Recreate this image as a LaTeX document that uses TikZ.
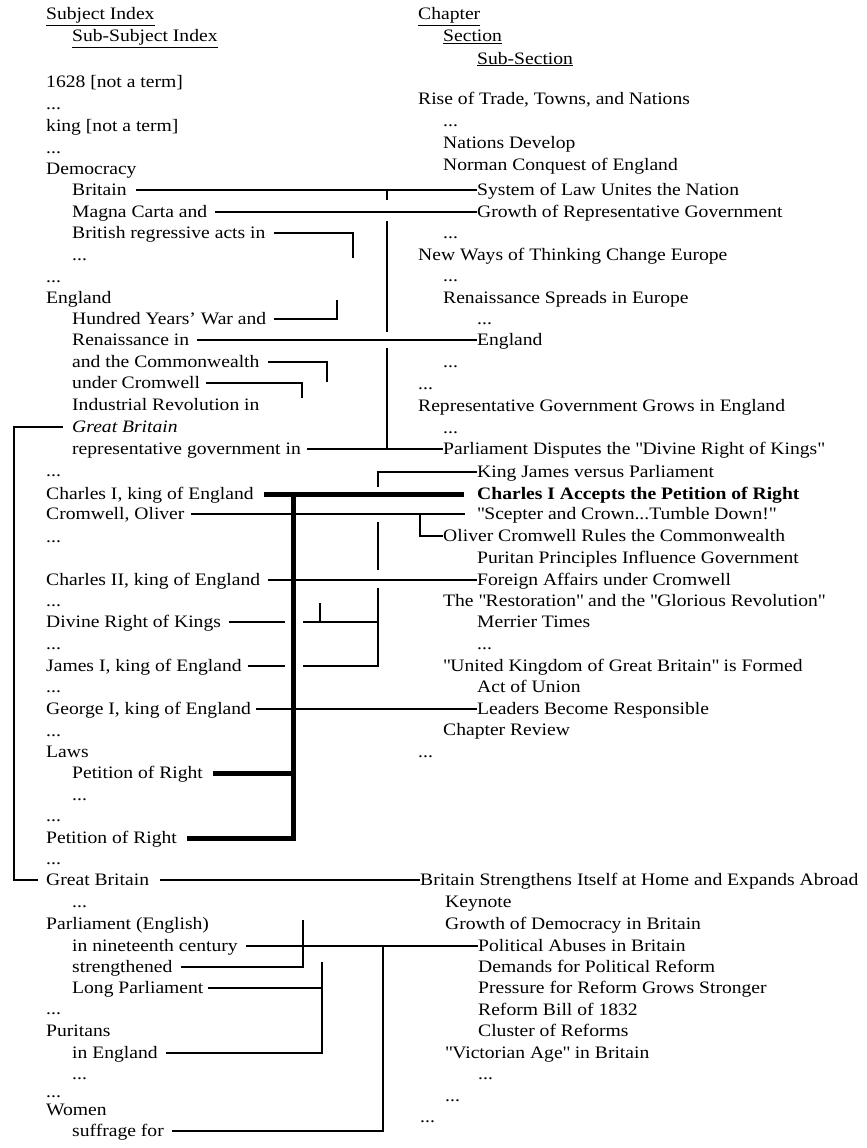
\documentclass[tikz,border=0pt]{standalone}
\usepackage{fontspec}
\setmainfont{Liberation Serif}[FakeStretch=1.12]
\usetikzlibrary{calc}

\begin{document}
\begin{tikzpicture}[x=1pt,y=-1pt,
    entry/.style={anchor=west,inner sep=0pt,text height=12pt,text depth=2pt,font=\fontsize{17.5}{20}\selectfont},
    link/.style={line width=1.1pt},
    midlink/.style={line width=1.8pt},
    boldlink/.style={line width=2.6pt},
    heavylink/.style={line width=5pt}]
        \useasboundingbox(0,0)rectangle(867,1148);
        % 左の列
        \node[entry](lh1)at(46,15){\underline{Subject Index}};
        \node[entry](lh2)at(72,37){\underline{Sub-Subject Index}};
        \node[entry](l1628)at(46,82){1628 [not a term]};
        \node[entry](ld1)at(46,104){...};
        \node[entry](lking)at(46,126){king [not a term]};
        \node[entry](ld2)at(46,148){...};
        \node[entry](ldem)at(46,169){Democracy};
        \node[entry](lbrit)at(72,190){Britain};
        \node[entry](lmagna)at(72,212){Magna Carta and};
        \node[entry](lregr)at(72,233){British regressive acts in};
        \node[entry](ld3)at(72,255){...};
        \node[entry](ld4)at(46,277){...};
        \node[entry](leng)at(46,298){England};
        \node[entry](lhund)at(72,319){Hundred Years' War and};
        \node[entry](lren)at(72,340){Renaissance in};
        \node[entry](lcomm)at(72,362){and the Commonwealth};
        \node[entry](lunder)at(72,383){under Cromwell};
        \node[entry](lind)at(72,405){Industrial Revolution in};
        \node[entry](lgb)at(72,427){\textit{Great Britain}};
        \node[entry](lrep)at(72,449){representative government in};
        \node[entry](ld5)at(46,471){...};
        \node[entry](lch1)at(46,494){Charles I, king of England};
        \node[entry](lcrom)at(46,514){Cromwell, Oliver};
        \node[entry](ld6)at(46,537){...};
        \node[entry](lch2)at(46,580){Charles II, king of England};
        \node[entry](ld7)at(46,601){...};
        \node[entry](ldiv)at(46,622){Divine Right of Kings};
        \node[entry](ld8)at(46,644){...};
        \node[entry](ljam)at(46,666){James I, king of England};
        \node[entry](ld9)at(46,687){...};
        \node[entry](lgeo)at(46,709){George I, king of England};
        \node[entry](ld10)at(46,731){...};
        \node[entry](llaws)at(46,752){Laws};
        \node[entry](lpet1)at(72,773){Petition of Right};
        \node[entry](ld11)at(72,795){...};
        \node[entry](ld12)at(46,816){...};
        \node[entry](lpet2)at(46,838){Petition of Right};
        \node[entry](ld13)at(46,859){...};
        \node[entry](lgrbr)at(46,880){Great Britain};
        \node[entry](ld14)at(72,902){...};
        \node[entry](lparl)at(46,924){Parliament (English)};
        \node[entry](lnine)at(72,946){in nineteenth century};
        \node[entry](lstr)at(72,967){strengthened};
        \node[entry](llong)at(72,988){Long Parliament};
        \node[entry](ld15)at(46,1009){...};
        \node[entry](lpur)at(46,1031){Puritans};
        \node[entry](lineng)at(72,1053){in England};
        \node[entry](ld16)at(72,1074){...};
        \node[entry](ld17)at(46,1092){...};
        \node[entry](lwom)at(46,1110){Women};
        \node[entry](lsuf)at(72,1131){suffrage for};
        % 右の列
        \node[entry](rh1)at(418,15){\underline{Chapter}};
        \node[entry](rh2)at(443,37){\underline{Section}};
        \node[entry](rh3)at(477,59){\underline{Sub-Section}};
        \node[entry](rrise)at(418,99){Rise of Trade, Towns, and Nations};
        \node[entry](rd1)at(443,121){...};
        \node[entry](rnat)at(443,143){Nations Develop};
        \node[entry](rnorm)at(443,165){Norman Conquest of England};
        \node[entry](rsys)at(477,190){System of Law Unites the Nation};
        \node[entry](rgrow)at(477,212){Growth of Representative Government};
        \node[entry](rd2)at(443,233){...};
        \node[entry](rnew)at(418,255){New Ways of Thinking Change Europe};
        \node[entry](rd3)at(443,276){...};
        \node[entry](rrens)at(443,298){Renaissance Spreads in Europe};
        \node[entry](rd4)at(477,319){...};
        \node[entry](reng)at(477,340){England};
        \node[entry](rd5)at(443,362){...};
        \node[entry](rd6)at(418,384){...};
        \node[entry](rrepg)at(418,406){Representative Government Grows in England};
        \node[entry](rd7)at(443,428){...};
        \node[entry](rpar)at(443,449){Parliament Disputes the \textquotedbl Divine Right of Kings\textquotedbl};
        \node[entry](rkj)at(477,472){King James versus Parliament};
        \node[entry](rch1)at(477,494){\textbf{Charles I Accepts the Petition of Right}};
        \node[entry](rscep)at(477,514){\textquotedbl Scepter and Crown...Tumble Down!\textquotedbl};
        \node[entry](rol)at(443,536){Oliver Cromwell Rules the Commonwealth};
        \node[entry](rpur)at(477,558){Puritan Principles Influence Government};
        \node[entry](rfor)at(477,580){Foreign Affairs under Cromwell};
        \node[entry](rrest)at(443,601){The \textquotedbl Restoration\textquotedbl{} and the \textquotedbl Glorious Revolution\textquotedbl};
        \node[entry](rmer)at(477,622){Merrier Times};
        \node[entry](rd8)at(477,644){...};
        \node[entry](runi)at(443,666){\textquotedbl United Kingdom of Great Britain\textquotedbl{} is Formed};
        \node[entry](ract)at(477,687){Act of Union};
        \node[entry](rlead)at(477,709){Leaders Become Responsible};
        \node[entry](rrev)at(443,730){Chapter Review};
        \node[entry](rd9)at(418,752){...};
        \node[entry](rbrit)at(420,880){Britain Strengthens Itself at Home and Expands Abroad};
        \node[entry](rkey)at(445,902){Keynote};
        \node[entry](rgdem)at(445,924){Growth of Democracy in Britain};
        \node[entry](rpol)at(478,946){Political Abuses in Britain};
        \node[entry](rdem)at(478,967){Demands for Political Reform};
        \node[entry](rpres)at(478,988){Pressure for Reform Grows Stronger};
        \node[entry](rbill)at(478,1010){Reform Bill of 1832};
        \node[entry](rclus)at(478,1031){Cluster of Reforms};
        \node[entry](rvic)at(445,1053){\textquotedbl Victorian Age\textquotedbl{} in Britain};
        \node[entry](rd10)at(478,1074){...};
        \node[entry](rd11)at(445,1096){...};
        \node[entry](rd12)at(420,1117){...};
        % 縦線の位置
        \coordinate(xg)at(14,0);
        \coordinate(xp)at(285,0);
        \coordinate(xc)at(293,0);
        \coordinate(xu)at(302,0);
        \coordinate(xq)at(303,0);
        \coordinate(xd)at(320,0);
        \coordinate(xl)at(322,0);
        \coordinate(xm)at(327,0);
        \coordinate(xh)at(337,0);
        \coordinate(xr)at(353,0);
        \coordinate(xk)at(378,0);
        \coordinate(xw)at(383,0);
        \coordinate(xa)at(387,0);
        \coordinate(xo)at(420,0);
        % Democracy
        \draw[link]([xshift=9pt]lbrit.east)to(rsys.west);
        \draw[link]([xshift=8pt]lmagna.east)to(rgrow.west);
        \draw[midlink](xa|-lbrit)to($(xa|-lbrit)+(0,10)$);
        \draw[midlink]($(xa|-lmagna)+(0,9)$)to($(xa|-lren)+(0,-8)$);
        \draw[midlink]($(xa|-lren)+(0,8)$)to(xa|-lrep);
        \draw[link]([xshift=8pt]lregr.east)-|($(xr|-ld3)+(0,3)$);
        % England
        \draw[link]([xshift=8pt]lhund.east)-|($(xh|-lhund)+(0,-19)$);
        \draw[link]([xshift=8pt]lren.east)to(reng.west);
        \draw[boldlink]([xshift=8pt]lcomm.east)-|($(xm|-lcomm)+(0,20)$);
        \draw[boldlink]([xshift=6pt]lunder.east)-|($(xu|-lunder)+(0,15)$);
        \draw[midlink]([xshift=6pt]lrep.east)to(rpar.west);
        % Great Britain
        \draw[link]([xshift=-9pt]lgb.west)-|(xg|-lgrbr)to([xshift=-8pt]lgrbr.west);
        \draw[link]([xshift=11pt]lgrbr.east)to(rbrit.west);
        % 王たち
        \draw[link]([xshift=8pt]lch2.east)to(rfor.west);
        \draw[link]([xshift=5pt]lgeo.east)to(rlead.west);
        \draw[midlink]([xshift=6pt]lcrom.east)to([xshift=-12pt]rscep.west);
        \draw[midlink](xo|-lcrom)|-(rol.west);
        \draw[midlink]($(xk|-lch1)+(0,-7)$)|-(rkj.west);
        \draw[midlink]($(xk|-lcrom)+(0,8)$)to($(xk|-lch2)+(0,-10)$);
        \draw[midlink]($(xk|-lch2)+(0,8)$)|-(xq|-ljam);
        \draw[midlink](xk|-ldiv)to(xq|-ldiv);
        \draw[midlink]([xshift=8pt]ldiv.east)to(xp|-ldiv);
        \draw[midlink]([xshift=6pt]ljam.east)to(xp|-ljam);
        \draw[midlink](xd|-ldiv)to($(xd|-ldiv)+(0,-19)$);
        % Petition of Right
        \draw[heavylink]([xshift=10pt]lch1.east)to([xshift=-13pt]rch1.west);
        \draw[heavylink](xc|-lch1)|-([xshift=10pt]lpet2.east);
        \draw[heavylink]([xshift=10pt]lpet1.east)to(xc|-lpet1);
        % Parliament
        \draw[link]([xshift=8pt]lnine.east)to(rpol.west);
        \draw[midlink]([xshift=8pt]lstr.east)-|($(xq|-lparl)+(0,-4)$);
        \draw[link]([xshift=4pt]llong.east)to(xl|-llong);
        \draw[link]($(xl|-lstr)+(0,-5)$)|-([xshift=8pt]lineng.east);
        \draw[link]([xshift=8pt]lsuf.east)-|(xw|-lnine);
    \end{tikzpicture}
\end{document}
